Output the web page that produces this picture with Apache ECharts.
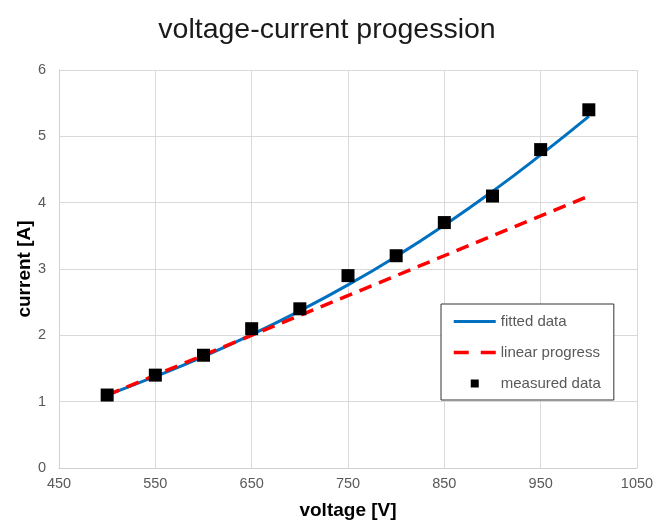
<!DOCTYPE html>
<html>
<head>
<meta charset="utf-8">
<script src="https://cdn.jsdelivr.net/npm/echarts@6/dist/echarts.min.js"></script>
<style>
	html, body { margin: 0; padding: 0; background: #fff; }
	#chartView { width: 654px; height: 520px; }
</style>
</head>
<body>
<div id="chartView"></div>
<script>
// measured points (voltage / current)
var voltage = [500, 550, 600, 650, 700, 750, 800, 850, 900, 950, 1000];
var measured = [1.1, 1.4, 1.7, 2.1, 2.4, 2.9, 3.2, 3.7, 4.1, 4.8, 5.4];
// fitted curve
var fitted = [1.1, 1.38, 1.68, 2.01, 2.37, 2.76, 3.19, 3.66, 4.17, 4.72, 5.3];
// linear progress, start and end of the red dashes
var linearV = [500, 1000];
var linearI = [1.1, 4.1];

var font = 'Liberation Sans, Arial, sans-serif';
// small square inside a 14x14 box for the legend
var smallSquare = 'path://M0,0 M14,14 M3,3 L11,3 L11,11 L3,11 Z';

function pairs(xs, ys){
	var out = [];
	for (var i = 0; i < xs.length; i++) {
		out.push([xs[i], ys[i]]);
	}
	return out;
}

var myChart = echarts.init(document.getElementById('chartView'));

var option = {
	animation: false,
	backgroundColor: '#fff',
	title: {
		text: 'voltage-current progession',
		left: 'center',
		top: 11,
		textStyle: { fontFamily: font, fontSize: 28.5, fontWeight: 'normal', color: '#1a1a1a' }
	},
	grid: { left: 59, right: 17, top: 70, bottom: 52, outerBoundsMode: 'none' },
	legend: {
		orient: 'vertical',
		left: 441,
		top: 304,
		padding: [10, 13, 9, 11],
		itemGap: 16,
		itemWidth: 42,
		itemHeight: 14,
		borderColor: '#333',
		borderWidth: 1,
		backgroundColor: '#fff',
		textStyle: { fontFamily: font, fontSize: 15, color: '#595959' },
		data: [
			{ name: 'fitted data', itemStyle: { opacity: 0 }, lineStyle: { width: 3 } },
			{ name: 'linear progress', itemStyle: { opacity: 0 }, lineStyle: { width: 3.5, type: [15, 12] } },
			{ name: 'measured data', icon: smallSquare }
		]
	},
	xAxis: {
		type: 'value',
		min: 450,
		max: 1050,
		interval: 100,
		name: 'voltage [V]',
		nameLocation: 'middle',
		nameGap: 33,
		nameMoveOverlap: false,
		nameTextStyle: { fontFamily: font, fontSize: 19, fontWeight: 'bold', color: '#000' },
		axisLine: { lineStyle: { color: '#d0d0d0' } },
		axisTick: { show: false },
		axisLabel: {
			fontFamily: font, fontSize: 14.5, color: '#595959', margin: 8,
			formatter: function(v){ return String(v); }
		},
		splitLine: { lineStyle: { color: '#d9d9d9' } }
	},
	yAxis: {
		type: 'value',
		min: 0,
		max: 6,
		interval: 1,
		name: 'current [A]',
		nameLocation: 'middle',
		nameGap: 25,
		nameMoveOverlap: false,
		nameTextStyle: { fontFamily: font, fontSize: 19, fontWeight: 'bold', color: '#000' },
		axisLine: { show: true, lineStyle: { color: '#d0d0d0' } },
		axisTick: { show: false },
		axisLabel: { fontFamily: font, fontSize: 14.5, color: '#595959', margin: 13 },
		splitLine: { lineStyle: { color: '#d9d9d9' } }
	},
	series: [{
		name: 'fitted data',
		type: 'line',
		smooth: true,
		showSymbol: false,
		symbol: 'none',
		z: 2,
		lineStyle: { color: '#0070c0', width: 3 },
		itemStyle: { color: '#0070c0' },
		data: pairs(voltage, fitted)
	}, {
		name: 'linear progress',
		type: 'line',
		showSymbol: false,
		symbol: 'none',
		z: 3,
		lineStyle: { color: '#ff0000', width: 3.5, type: [13, 8] },
		itemStyle: { color: '#ff0000' },
		data: pairs(linearV, linearI)
	}, {
		name: 'measured data',
		type: 'scatter',
		symbol: 'rect',
		symbolSize: 13,
		z: 4,
		itemStyle: { color: '#000', opacity: 1 },
		data: pairs(voltage, measured)
	}]
};

myChart.setOption(option);
</script>
</body>
</html>
